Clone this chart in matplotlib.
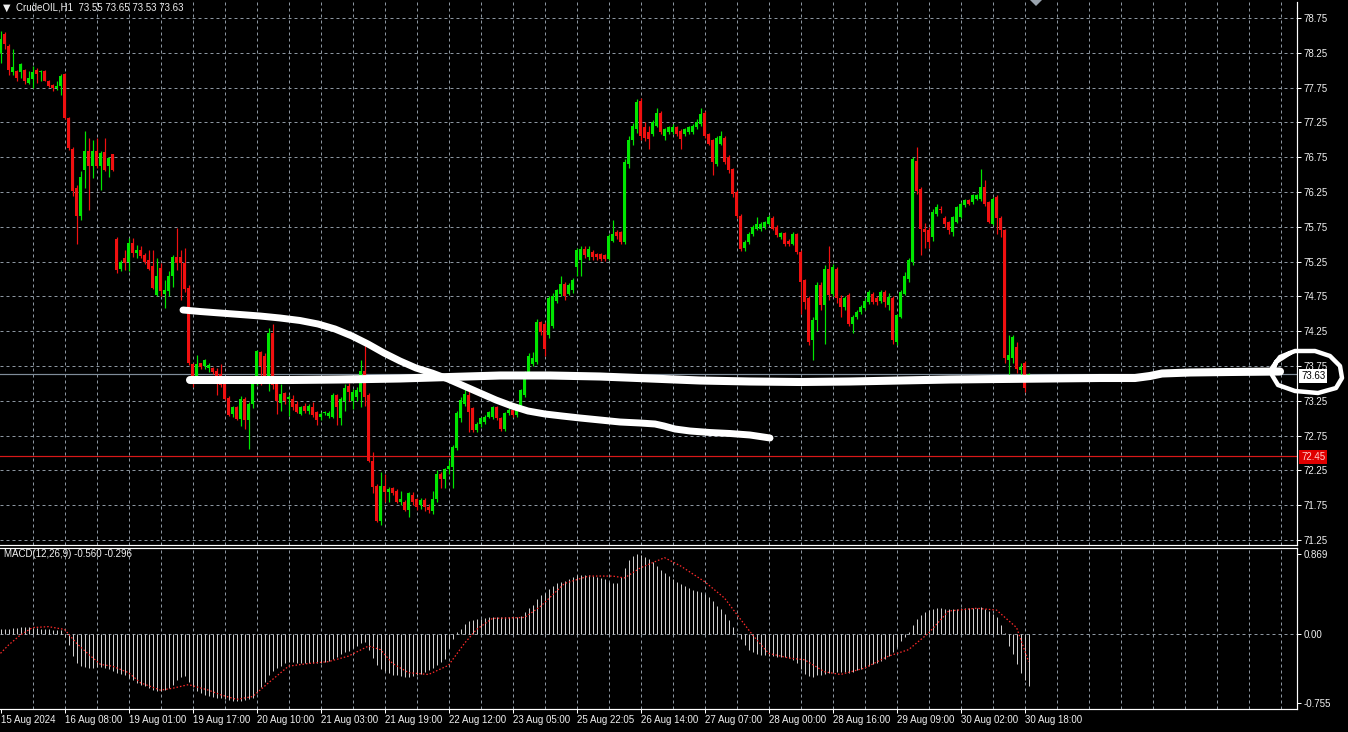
import numpy as np
import matplotlib.pyplot as plt
from matplotlib.patches import Polygon
from matplotlib.transforms import IdentityTransform

plt.rcParams['font.family'] = ['Liberation Sans', 'DejaVu Sans']

# ---------------------
# data: CrudeOIL H1 bars, bar 0 = 15 Aug 2024
# ---------------------
opens = [
    78.25, 78.52, 78.35, 77.97, 77.99, 77.97, 78.00, 77.82, 77.87, 78.00,
    77.97, 77.99, 77.85, 77.79, 77.75, 77.77, 77.94, 77.32, 76.87, 76.31,
    75.90, 76.57, 76.84, 76.62, 76.84, 76.62, 76.82, 76.62, 76.79, 75.57,
    75.14, 75.30, 75.25, 75.52, 75.37, 75.42, 75.35, 75.27, 75.18, 74.77,
    75.16, 74.79, 74.83, 75.04, 75.32, 75.32, 75.23, 74.87, 73.78, 73.59,
    73.79, 73.75, 73.72, 73.72, 73.68, 73.64, 73.49, 73.29, 73.06, 73.16,
    72.99, 73.28, 72.97, 73.20, 73.61, 73.95, 73.90, 73.61, 74.23, 73.49,
    73.22, 73.36, 73.28, 73.28, 73.21, 73.06, 73.17, 73.10, 73.16, 73.09,
    73.01, 73.07, 73.03, 73.02, 73.33, 73.00, 73.25, 73.46, 73.25, 73.30,
    73.37, 73.68, 73.33, 72.39, 72.03, 71.53, 72.03, 71.94, 71.99, 71.96,
    71.80, 71.80, 71.68, 71.89, 71.84, 71.75, 71.82, 71.73, 71.66, 71.84,
    72.20, 72.12, 72.27, 72.30, 72.57, 73.00, 73.21, 73.33, 73.14, 72.83,
    72.92, 72.95, 73.02, 73.02, 73.16, 73.00, 72.85, 73.07, 73.12, 73.04,
    73.14, 73.33, 73.66, 73.78, 73.81, 74.38, 74.36, 74.19, 74.33, 74.69,
    74.79, 74.93, 74.79, 74.84, 75.17, 75.27, 75.43, 75.31, 75.39, 75.36,
    75.36, 75.34, 75.29, 75.55, 75.67, 75.67, 75.53, 76.65, 76.99, 77.15,
    77.56, 77.18, 77.11, 77.08, 77.20, 77.39, 77.06, 77.11, 77.11, 77.18,
    77.13, 77.08, 77.11, 77.11, 77.18, 77.23, 77.39, 77.08, 76.99, 76.65,
    76.94, 77.03, 76.75, 76.58, 76.25, 75.91, 75.44, 75.53, 75.65, 75.72,
    75.72, 75.75, 75.79, 75.87, 75.75, 75.60, 75.66, 75.55, 75.51, 75.64,
    75.39, 74.98, 74.72, 74.12, 74.41, 74.91, 74.62, 75.15, 74.79, 75.15,
    74.72, 74.60, 74.77, 74.36, 74.46, 74.53, 74.58, 74.67, 74.79, 74.72,
    74.69, 74.81, 74.62, 74.72, 74.10, 74.46, 74.79, 75.00, 75.24, 76.70,
    76.30, 75.72, 75.70, 75.60, 75.94, 76.01, 75.87, 75.82, 75.67, 75.82,
    75.89, 76.06, 76.13, 76.10, 76.15, 76.15, 76.32, 76.10, 75.79, 76.18,
    75.87, 75.70, 73.83, 73.86, 74.03, 73.69, 73.79, 73.55,
]
highs = [
    78.57, 78.55, 78.37, 78.31, 78.00, 78.10, 78.02, 77.99, 78.06, 78.03,
    78.00, 78.00, 77.86, 77.80, 77.84, 77.94, 77.96, 77.33, 76.90, 76.35,
    76.55, 77.12, 77.03, 77.00, 77.03, 76.84, 77.03, 76.76, 76.80, 75.61,
    75.27, 75.42, 75.59, 75.59, 75.49, 75.47, 75.38, 75.42, 75.42, 75.30,
    75.23, 74.99, 75.11, 75.35, 75.73, 75.42, 75.44, 74.92, 73.80, 73.91,
    73.80, 73.85, 73.79, 73.74, 73.72, 73.78, 73.50, 73.32, 73.18, 73.17,
    73.32, 73.30, 73.23, 73.52, 73.98, 73.97, 73.93, 74.29, 74.35, 73.50,
    73.49, 73.37, 73.33, 73.33, 73.24, 73.18, 73.22, 73.20, 73.23, 73.10,
    73.09, 73.10, 73.11, 73.36, 73.35, 73.30, 73.49, 73.50, 73.42, 73.45,
    73.83, 74.14, 73.36, 72.51, 72.06, 72.23, 72.20, 72.01, 72.01, 71.98,
    71.96, 71.83, 71.94, 71.94, 71.86, 71.86, 71.85, 71.76, 71.96, 72.25,
    72.23, 72.28, 72.40, 72.62, 73.10, 73.30, 73.47, 73.40, 73.16, 72.95,
    73.02, 73.04, 73.11, 73.18, 73.18, 73.02, 73.09, 73.14, 73.14, 73.20,
    73.42, 73.68, 73.93, 73.95, 74.42, 74.40, 74.38, 74.75, 74.80, 74.86,
    75.05, 74.95, 74.94, 75.02, 75.44, 75.48, 75.48, 75.47, 75.42, 75.38,
    75.38, 75.36, 75.64, 75.85, 75.70, 75.69, 76.72, 77.05, 77.24, 77.58,
    77.60, 77.25, 77.20, 77.28, 77.45, 77.42, 77.17, 77.20, 77.22, 77.20,
    77.15, 77.17, 77.20, 77.22, 77.30, 77.45, 77.42, 77.10, 77.01, 77.06,
    77.12, 77.06, 76.78, 76.60, 76.28, 75.93, 75.56, 75.68, 75.77, 75.89,
    75.82, 75.84, 75.92, 75.90, 75.77, 75.68, 75.68, 75.57, 75.67, 75.66,
    75.42, 75.00, 74.75, 74.46, 74.96, 74.95, 75.20, 75.48, 75.22, 75.17,
    74.77, 74.75, 74.80, 74.48, 74.56, 74.62, 74.72, 74.84, 74.82, 74.75,
    74.84, 74.84, 74.80, 74.76, 74.50, 74.84, 75.10, 75.30, 76.76, 76.89,
    76.32, 75.80, 75.75, 76.00, 76.08, 76.05, 75.90, 75.84, 75.91, 76.05,
    76.10, 76.15, 76.15, 76.22, 76.22, 76.58, 76.42, 76.12, 76.18, 76.20,
    75.90, 75.72, 74.19, 74.20, 74.10, 73.79, 73.82, 73.65,
]
lows = [
    78.11, 78.31, 77.93, 77.93, 77.85, 77.89, 77.80, 77.80, 77.75, 77.82,
    77.85, 77.84, 77.76, 77.70, 77.72, 77.65, 77.30, 76.86, 76.19, 75.51,
    75.85, 76.31, 75.99, 76.45, 76.60, 76.28, 76.55, 76.47, 76.55, 75.09,
    75.12, 75.13, 75.11, 75.32, 75.30, 75.30, 75.22, 75.13, 74.85, 74.75,
    74.75, 74.58, 74.75, 74.89, 75.13, 74.70, 74.82, 73.77, 73.45, 73.52,
    73.70, 73.71, 73.66, 73.64, 73.33, 73.45, 73.26, 73.03, 73.01, 72.97,
    72.89, 72.85, 72.56, 73.15, 73.47, 73.47, 73.59, 73.39, 73.42, 73.06,
    73.11, 73.21, 73.03, 73.12, 73.07, 73.04, 73.08, 73.06, 73.02, 72.90,
    72.97, 73.04, 73.00, 73.00, 72.90, 72.90, 73.11, 73.25, 73.13, 73.25,
    73.16, 73.18, 72.37, 71.92, 71.51, 71.46, 71.80, 71.80, 71.90, 71.78,
    71.75, 71.66, 71.58, 71.75, 71.68, 71.70, 71.66, 71.64, 71.63, 71.80,
    72.00, 72.00, 72.20, 72.00, 72.55, 72.95, 73.18, 72.80, 72.80, 72.80,
    72.88, 72.92, 73.00, 72.99, 72.98, 72.82, 72.82, 73.04, 73.01, 73.02,
    73.10, 73.30, 73.62, 73.75, 73.78, 74.20, 73.90, 74.15, 74.30, 74.66,
    74.76, 74.70, 74.77, 74.80, 75.05, 75.05, 75.30, 75.28, 75.28, 75.28,
    75.26, 75.26, 75.27, 75.53, 75.58, 75.50, 75.50, 76.60, 76.92, 77.10,
    77.00, 76.98, 76.87, 77.05, 77.18, 77.08, 77.00, 77.08, 77.09, 77.06,
    76.87, 77.05, 77.09, 77.09, 77.16, 77.20, 77.03, 76.92, 76.49, 76.62,
    76.92, 76.65, 76.52, 76.18, 75.88, 75.40, 75.40, 75.50, 75.62, 75.70,
    75.69, 75.72, 75.77, 75.70, 75.60, 75.57, 75.48, 75.48, 75.49, 75.36,
    74.50, 74.57, 74.05, 73.83, 74.26, 74.55, 74.07, 74.70, 74.75, 74.65,
    74.45, 74.55, 74.33, 74.22, 74.42, 74.50, 74.55, 74.64, 74.64, 74.62,
    74.66, 74.60, 74.55, 74.07, 74.05, 74.44, 74.77, 74.95, 75.20, 76.22,
    75.34, 75.45, 75.45, 75.55, 75.90, 75.95, 75.75, 75.65, 75.62, 75.80,
    75.87, 76.03, 76.06, 76.08, 76.13, 76.12, 76.05, 75.80, 75.77, 75.65,
    75.60, 73.80, 73.52, 73.80, 73.65, 73.55, 73.38, 73.53,
]
closes = [
    78.45, 78.37, 78.01, 78.04, 77.89, 78.09, 77.85, 77.89, 77.97, 77.95,
    77.99, 77.85, 77.78, 77.74, 77.77, 77.92, 77.32, 76.88, 76.26, 75.90,
    76.47, 76.84, 76.62, 76.84, 76.62, 76.81, 76.57, 76.74, 76.57, 75.13,
    75.25, 75.23, 75.52, 75.37, 75.42, 75.33, 75.25, 75.15, 74.87, 75.04,
    74.83, 74.84, 75.04, 75.32, 75.23, 75.23, 74.85, 73.80, 73.59, 73.78,
    73.73, 73.83, 73.76, 73.67, 73.61, 73.47, 73.28, 73.05, 73.16, 72.99,
    73.28, 72.97, 73.21, 73.49, 73.97, 73.75, 73.61, 74.23, 73.47, 73.25,
    73.35, 73.25, 73.30, 73.16, 73.09, 73.16, 73.10, 73.18, 73.04, 72.97,
    73.06, 73.09, 73.08, 73.33, 73.16, 73.28, 73.44, 73.37, 73.37, 73.40,
    73.68, 73.30, 72.39, 72.01, 71.53, 72.03, 71.94, 71.98, 71.93, 71.80,
    71.84, 71.68, 71.92, 71.80, 71.72, 71.82, 71.72, 71.68, 71.84, 72.20,
    72.12, 72.27, 72.32, 72.59, 73.07, 73.26, 73.35, 73.09, 72.83, 72.92,
    73.00, 73.02, 73.09, 73.16, 73.00, 72.85, 73.07, 73.12, 73.04, 73.14,
    73.40, 73.66, 73.90, 73.86, 74.38, 74.24, 74.00, 74.72, 74.76, 74.84,
    74.93, 74.76, 74.91, 74.98, 75.41, 75.43, 75.34, 75.43, 75.31, 75.31,
    75.29, 75.29, 75.62, 75.65, 75.62, 75.53, 76.68, 76.99, 77.20, 77.54,
    77.06, 77.03, 77.01, 77.25, 77.39, 77.11, 77.15, 77.18, 77.18, 77.08,
    77.01, 77.15, 77.18, 77.20, 77.25, 77.37, 77.06, 76.94, 76.68, 77.03,
    77.06, 76.68, 76.56, 76.22, 75.91, 75.43, 75.53, 75.65, 75.75, 75.79,
    75.79, 75.82, 75.89, 75.72, 75.63, 75.66, 75.51, 75.51, 75.65, 75.39,
    74.96, 74.67, 74.10, 74.41, 74.91, 74.62, 75.15, 74.77, 75.17, 74.72,
    74.60, 74.72, 74.36, 74.46, 74.53, 74.60, 74.69, 74.81, 74.67, 74.67,
    74.81, 74.67, 74.74, 74.12, 74.48, 74.81, 75.05, 75.27, 76.73, 76.27,
    75.72, 75.67, 75.53, 75.96, 76.03, 75.99, 75.79, 75.70, 75.89, 76.03,
    76.08, 76.13, 76.08, 76.20, 76.20, 76.32, 76.08, 75.82, 76.15, 75.87,
    75.70, 73.86, 73.91, 74.17, 73.71, 73.74, 73.43, 73.63,
]

# MACD(12,26,9) main values per bar
macd_main = [
    0.05, 0.06, 0.06, 0.07, 0.07, 0.08, 0.08, 0.08, 0.07, 0.07,
    0.06, 0.06, 0.05, 0.04, 0.04, 0.04, -0.03, -0.12, -0.24, -0.31,
    -0.35, -0.36, -0.37, -0.37, -0.36, -0.36, -0.37, -0.38, -0.40, -0.42,
    -0.43, -0.44, -0.48, -0.50, -0.53, -0.55, -0.57, -0.59, -0.61, -0.62,
    -0.62, -0.61, -0.59, -0.55, -0.50, -0.47, -0.46, -0.52, -0.58, -0.62,
    -0.64, -0.66, -0.67, -0.68, -0.69, -0.70, -0.71, -0.72, -0.73, -0.73,
    -0.73, -0.72, -0.71, -0.70, -0.64, -0.58, -0.52, -0.45, -0.40, -0.37,
    -0.35, -0.31, -0.30, -0.30, -0.31, -0.31, -0.31, -0.31, -0.31, -0.32,
    -0.31, -0.30, -0.29, -0.27, -0.25, -0.22, -0.20, -0.18, -0.15, -0.13,
    -0.10, -0.09, -0.17, -0.26, -0.34, -0.38, -0.40, -0.42, -0.44, -0.45,
    -0.46, -0.47, -0.47, -0.46, -0.45, -0.43, -0.41, -0.39, -0.37, -0.34,
    -0.30, -0.27, -0.15, -0.05, 0.02, 0.06, 0.11, 0.14, 0.15, 0.16,
    0.16, 0.17, 0.18, 0.18, 0.19, 0.19, 0.18, 0.18, 0.18, 0.19,
    0.20, 0.24, 0.28, 0.32, 0.38, 0.42, 0.45, 0.49, 0.52, 0.55,
    0.57, 0.58, 0.60, 0.62, 0.64, 0.64, 0.64, 0.64, 0.63, 0.62,
    0.61, 0.60, 0.57, 0.56, 0.56, 0.62, 0.72, 0.80, 0.85, 0.87,
    0.86, 0.84, 0.82, 0.78, 0.74, 0.70, 0.66, 0.63, 0.60, 0.57,
    0.54, 0.52, 0.50, 0.48, 0.47, 0.46, 0.44, 0.40, 0.36, 0.31,
    0.27, 0.22, 0.15, 0.08, 0.01, -0.05, -0.12, -0.17, -0.20, -0.22,
    -0.23, -0.23, -0.24, -0.24, -0.25, -0.25, -0.25, -0.26, -0.28, -0.32,
    -0.38, -0.43, -0.46, -0.47, -0.45, -0.44, -0.43, -0.42, -0.41, -0.41,
    -0.41, -0.41, -0.42, -0.41, -0.39, -0.38, -0.37, -0.35, -0.33, -0.31,
    -0.29, -0.27, -0.24, -0.20, -0.14, -0.08, -0.03, 0.02, 0.10, 0.16,
    0.21, 0.24, 0.26, 0.27, 0.28, 0.28, 0.27, 0.27, 0.27, 0.27,
    0.28, 0.28, 0.28, 0.28, 0.28, 0.29, 0.27, 0.25, 0.22, 0.18,
    0.10, 0.01, -0.13, -0.22, -0.33, -0.42, -0.50, -0.56,
]
# signal line, read at these bars
signal_bars = [0, 2, 5, 8, 12, 16, 19, 22, 25, 28, 32, 35, 40, 43, 47, 52, 55, 59,
               63, 67, 72, 77, 82, 87, 92, 95, 98, 102, 107, 112, 116, 119, 123,
               131, 135, 141, 147, 153, 156, 160, 166, 170, 176, 181, 185, 188,
               192, 197, 201, 206, 210, 216, 222, 227, 232, 237, 244, 249, 254, 257]
signal_vals = [-0.21, -0.12, -0.01, 0.07, 0.08, 0.05, -0.10, -0.22, -0.33, -0.35,
               -0.42, -0.53, -0.61, -0.59, -0.55, -0.61, -0.66, -0.71, -0.68, -0.53,
               -0.35, -0.32, -0.30, -0.24, -0.13, -0.17, -0.32, -0.42, -0.44, -0.34,
               -0.10, 0.05, 0.17, 0.18, 0.30, 0.55, 0.63, 0.63, 0.61, 0.72,
               0.83, 0.74, 0.57, 0.39, 0.16, -0.01, -0.21, -0.26, -0.28, -0.41,
               -0.44, -0.37, -0.24, -0.17, 0.01, 0.25, 0.28, 0.26, 0.07, -0.30]

time_labels = ['15 Aug 2024', '16 Aug 08:00', '19 Aug 01:00', '19 Aug 17:00',
               '20 Aug 10:00', '21 Aug 03:00', '21 Aug 19:00', '22 Aug 12:00',
               '23 Aug 05:00', '25 Aug 22:05', '26 Aug 14:00', '27 Aug 07:00',
               '28 Aug 00:00', '28 Aug 16:00', '29 Aug 09:00', '30 Aug 02:00',
               '30 Aug 18:00']
price_levels = [71.25, 71.75, 72.25, 72.75, 73.25, 73.75, 74.25, 74.75,
                75.25, 75.75, 76.25, 76.75, 77.25, 77.75, 78.25, 78.75]
bid = 73.63
hline_price = 72.45
macd_levels = [0.869, 0.0, -0.755]
macd_level_labels = ['0.869', '0.00', '-0.755']

# hand drawn white strokes on top of the screenshot (pixel positions)
stroke_a_px = [(183, 310), (200, 311.5), (220, 313), (240, 314.5), (260, 316), (280, 318),
               (300, 320.5), (318, 324), (335, 329), (352, 336), (368, 344), (384, 353),
               (400, 361), (416, 368), (432, 373), (448, 379), (464, 386), (480, 393),
               (496, 400), (512, 406), (528, 411), (545, 414), (562, 416), (580, 418),
               (600, 420), (620, 422), (640, 423), (655, 424), (664, 426), (675, 429),
               (690, 431), (710, 432.5), (730, 433.5), (750, 435), (770, 438)]
stroke_b_px = [(190, 380), (240, 380), (290, 380), (340, 379.5), (400, 378.5), (450, 377),
               (500, 375.5), (550, 375.5), (600, 376.5), (650, 378.5), (700, 380.5),
               (750, 381.5), (800, 382), (850, 381.5), (900, 380.5), (950, 379.5),
               (1000, 379), (1050, 378.5), (1100, 378), (1135, 378), (1150, 376),
               (1162, 373.5), (1190, 372.5), (1230, 372), (1280, 371.5)]
loop_px = [(1272, 368), (1280, 357), (1295, 351), (1315, 351), (1330, 356), (1340, 366),
           (1342, 378), (1336, 388), (1318, 393), (1295, 391), (1278, 385), (1272, 375),
           (1276, 362), (1290, 353)]

# ---------------------
# layout (pixel based, MT4 look)
# ---------------------
W, H = 1348, 732
BULL, BEAR = '#00e600', '#f01010'
GRID = '#8c96a0'
TXT = '#f0f0f0'
PX = 0.72  # one pixel in points
FS = 7

fig = plt.figure(figsize=(W / 100, H / 100), dpi=100, facecolor='black')
ax = fig.add_axes([0, 1 - 545 / H, 1297 / W, 543 / H], facecolor='black')
axm = fig.add_axes([0, 1 - 709 / H, 1297 / W, 161 / H], facecolor='black', sharex=ax)

ax.set_xlim(-0.125, 324.1)
ax.set_ylim(71.178, 78.98)
axm.set_ylim(-0.815, 0.935)

# grid
for b in range(8, 325, 8):
    for a in (ax, axm):
        a.axvline(b, color=GRID, lw=PX, linestyle=(0, (3, 3)), zorder=0)
for p in price_levels:
    ax.axhline(p, color=GRID, lw=PX, linestyle=(0, (3, 3)), zorder=0)
axm.axhline(0, color=GRID, lw=PX, linestyle=(0, (3, 3)), zorder=0)

# candles
idx = np.arange(len(closes))
o = np.array(opens)
c = np.array(closes)
cols = np.where(c >= o, BULL, BEAR)
ax.vlines(idx, lows, highs, colors=cols, lw=PX * 1.2, zorder=3)
ax.bar(idx, np.maximum(np.abs(c - o), 0.015), bottom=np.minimum(o, c), width=0.82,
       color=cols, linewidth=0, zorder=4)

# horizontal lines
ax.axhline(bid, color='#7f8c99', lw=PX * 1.2, zorder=2)
ax.axhline(hline_price, color='#d81818', lw=PX * 1.2, zorder=2)

# MACD pane
axm.vlines(idx, 0, macd_main, colors='#cfcfcf', lw=PX, zorder=3)
axm.plot(signal_bars, signal_vals, color='#ff2a2a', lw=0.9, linestyle=(0, (1.2, 1.6)), zorder=4)

# axes styling
for a in (ax, axm):
    for s in a.spines.values():
        s.set_color('white')
        s.set_linewidth(PX * 1.2)
    a.spines['left'].set_visible(False)
    a.yaxis.tick_right()
    a.tick_params(axis='y', colors='white', length=3, width=PX, pad=2,
                  labelsize=FS, labelcolor=TXT)
ax.spines['top'].set_visible(False)

ax.set_yticks(price_levels)
ax.set_yticklabels([f'{p:.2f}' for p in price_levels])
ax.tick_params(axis='x', bottom=False, labelbottom=False)

axm.set_yticks(macd_levels)
axm.set_yticklabels(macd_level_labels)
axm.set_xticks(np.arange(0, 16 * len(time_labels), 16))
axm.set_xticklabels(time_labels)
axm.tick_params(axis='x', colors='white', length=3, width=PX, pad=1.5,
                labelsize=FS, labelcolor=TXT)
for lab in axm.get_xticklabels():
    lab.set_ha('left')

# texts
fig.text(3 / W, 1 - 8 / H, '▼', color=TXT, fontsize=7, va='center',
         family=['DejaVu Sans'])
fig.text(16 / W, 1 - 8 / H, 'CrudeOIL,H1  73.55 73.65 73.53 73.63',
         color=TXT, fontsize=FS, va='center')
fig.text(4 / W, 1 - 554 / H, 'MACD(12,26,9) -0.560 -0.296',
         color=TXT, fontsize=FS, va='center')

# price tags on the scale
fig.text(1301 / W, 1 - 457 / H, f'{hline_price:.2f}', color='#ffd0d0', fontsize=FS,
         va='center', bbox=dict(facecolor='#e00000', edgecolor='none', pad=1.2))
fig.text(1301 / W, 1 - 376 / H, f'{bid:.2f}', color='black', fontsize=FS,
         va='center', bbox=dict(facecolor='white', edgecolor='none', pad=1.2), zorder=5)


# hand drawn strokes, placed in screen pixels
def draw_stroke(pts, lw):
    xs = [p[0] for p in pts]
    ys = [H - p[1] for p in pts]
    fig.add_artist(plt.Line2D(xs, ys, transform=IdentityTransform(), color='white',
                              lw=lw, solid_capstyle='round', solid_joinstyle='round',
                              zorder=10))


draw_stroke(stroke_a_px, 5)
draw_stroke(stroke_b_px, 5.8)
draw_stroke(loop_px, 3.2)

# shift marker at the top
fig.patches.append(Polygon([(1030 / W, 1.0), (1042 / W, 1.0), (1036 / W, 1 - 6 / H)],
                           closed=True, transform=fig.transFigure,
                           facecolor='#9aa4ae', edgecolor='none'))

fig.savefig('out.png', dpi=100, facecolor='black')
